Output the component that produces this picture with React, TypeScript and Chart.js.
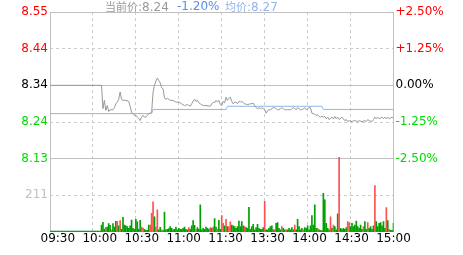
import React, { useEffect, useRef } from "react";
import { Chart, registerables } from "chart.js";

Chart.register(...registerables);

// ---- axis definitions ----
const priceTicks = [7.92, 8.025, 8.13, 8.235, 8.34, 8.445, 8.55];
const leftLabels = ["", "211", "8.13", "8.24", "8.34", "8.44", "8.55"];
const rightLabels = ["", "", "-2.50%", "-1.25%", "0.00%", "+1.25%", "+2.50%"];
const timeTicks = [0, 30, 60, 90, 120, 150, 180, 210, 240];
const timeLabels = ["09:30", "10:00", "10:30", "11:00", "11:30", "13:30", "14:00", "14:30", "15:00"];
const volumeAxisMax = 1266;

// ---- price (minute index -> price) ----
const priceMinutes = [
  0, 36, 37, 38, 39, 40, 41, 42, 44, 45, 46, 47, 48, 49, 50, 51, 53, 55, 56, 57,
  58, 59, 60, 61, 62, 63, 64, 65, 66, 67, 68, 69, 71, 72, 73, 74, 75, 76, 77, 78,
  79, 80, 81, 82, 84, 86, 88, 90, 92, 94, 96, 98, 99, 100, 101, 102, 103, 104, 105, 107,
  109, 112, 113, 114, 115, 116, 117, 118, 119, 120, 121, 122, 123, 124, 125, 126, 127, 128, 129, 130,
  131, 132, 133, 134, 136, 138, 140, 142, 143, 144, 145, 146, 147, 148, 149, 150, 151, 152, 153, 154,
  156, 157, 158, 159, 160, 161, 162, 163, 164, 166, 168, 169, 170, 171, 172, 173, 174, 175, 176, 177,
  178, 179, 180, 181, 182, 183, 184, 185, 186, 187, 188, 189, 190, 191, 192, 193, 194, 195, 197, 198,
  199, 200, 201, 202, 204, 205, 206, 207, 208, 209, 211, 212, 213, 215, 216, 218, 220, 221, 222, 223,
  225, 226, 227, 228, 229, 230, 232, 233, 234, 235, 236, 237, 239, 240,
];
const prices = [
  8.340, 8.340, 8.273, 8.297, 8.268, 8.282, 8.265, 8.270, 8.270, 8.276, 8.287, 8.292, 8.300, 8.321, 8.300, 8.297, 8.297, 8.294, 8.280, 8.262,
  8.259, 8.254, 8.254, 8.249, 8.245, 8.239, 8.249, 8.254, 8.249, 8.249, 8.254, 8.259, 8.262, 8.320, 8.340, 8.352, 8.361, 8.354, 8.347, 8.333,
  8.330, 8.303, 8.300, 8.303, 8.297, 8.297, 8.292, 8.292, 8.287, 8.282, 8.285, 8.280, 8.287, 8.295, 8.300, 8.294, 8.297, 8.290, 8.287, 8.282,
  8.282, 8.280, 8.287, 8.292, 8.290, 8.297, 8.292, 8.297, 8.285, 8.282, 8.294, 8.290, 8.306, 8.297, 8.303, 8.306, 8.294, 8.287, 8.292, 8.292,
  8.287, 8.294, 8.292, 8.294, 8.287, 8.285, 8.287, 8.289, 8.282, 8.276, 8.273, 8.276, 8.273, 8.276, 8.273, 8.270, 8.260, 8.268, 8.270, 8.270,
  8.276, 8.276, 8.273, 8.270, 8.270, 8.273, 8.276, 8.273, 8.270, 8.270, 8.270, 8.273, 8.276, 8.273, 8.270, 8.276, 8.273, 8.270, 8.270, 8.273,
  8.276, 8.270, 8.273, 8.276, 8.276, 8.260, 8.259, 8.257, 8.254, 8.256, 8.251, 8.249, 8.251, 8.249, 8.251, 8.244, 8.249, 8.242, 8.249, 8.244,
  8.251, 8.244, 8.249, 8.242, 8.249, 8.244, 8.239, 8.242, 8.236, 8.239, 8.236, 8.239, 8.239, 8.236, 8.239, 8.236, 8.239, 8.236, 8.242, 8.239,
  8.236, 8.242, 8.249, 8.244, 8.249, 8.244, 8.249, 8.244, 8.249, 8.244, 8.249, 8.244, 8.249, 8.246,
];

// ---- average price ----
const avgMinutes = [0, 71, 72, 123, 124, 190, 191, 240];
const avgPrices = [8.259, 8.259, 8.271, 8.271, 8.280, 8.280, 8.271, 8.271];

// ---- volume per minute (minute 0..240) ----
const volumes = [
  0, 0, 0, 0, 0, 0, 0, 0, 0, 0, 0, 0, 0, 0, 0, 0, 0, 0, 0, 0,
  0, 0, 0, 0, 0, 0, 0, 0, 0, 0, 0, 0, 0, 0, 0, 0,
  40, 56, 17, 27, 29, 48, 39, 13, 48, 29,
  62, 62, 35, 65, 15, 85, 40, 36, 31, 21,
  35, 69, 21, 15, 73, 58, 15, 67, 29, 23,
  15, 10, 10, 40, 40, 108, 173, 87, 29, 127,
  12, 27, 12, 8, 115, 12, 15, 19, 31, 21,
  12, 15, 29, 12, 21, 15, 15, 21, 29, 15,
  12, 25, 15, 36, 65, 39, 15, 25, 15, 156,
  12, 21, 15, 29, 21, 15, 25, 21, 29, 77,
  29, 17, 67, 15, 94, 50, 35, 73, 31, 31,
  58, 40, 36, 31, 21, 31, 63, 31, 60, 35,
  31, 25, 21, 142, 15, 31, 44, 12, 25, 44,
  21, 15, 15, 25, 177, 12, 12, 21, 31, 36,
  12, 12, 50, 54, 21, 12, 31, 21, 12, 12,
  12, 21, 12, 25, 12, 40, 12, 73, 31, 12,
  21, 12, 25, 21, 35, 12, 35, 94, 40, 156,
  21, 21, 12, 8, 8, 223, 185, 50, 21, 12,
  88, 21, 40, 31, 12, 104, 430, 21, 15, 21,
  15, 25, 60, 54, 31, 50, 31, 40, 63, 31,
  21, 40, 15, 31, 60, 15, 54, 21, 31, 15,
  36, 267, 60, 31, 50, 54, 35, 60, 21, 140,
  65, 15, 10, 10, 50,
];
// r = up (red), g = down (green), per minute
const volumeDirections =
  "gggggggggggggggggggggggggggggggggggg" +
  "gggrgggrgg" + "grgrgggggg" + "ggggggggrr" + "ggggrrrgrr" + "ggrggggggg" +
  "gggggggggg" + "grggggrggg" + "ggggggrgrg" + "grggrrgrgr" + "rggggggggg" +
  "rggggggggg" + "ggggrggggg" + "grggggrggr" + "gggggrgggg" + "grgggggggg" +
  "grgggggggg" + "rgrgggrggg" + "ggrrgggggg" + "gggrggrggg" + "grgggggggr" +
  "grggg";

const RED = "#ff0000";
const GREEN = "#00dd00";
const GRID = "#cccccc";
const SOLID = "#c0c0c0";
const leftColors = ["#000000", "#c0c0c0", GREEN, GREEN, "#000000", RED, RED];
const rightColors = ["#000000", "#000000", GREEN, GREEN, "#000000", RED, RED];
const dashedY = [false, true, false, true, false, true, false];

export default function App() {
  const ref = useRef<HTMLCanvasElement>(null);

  useEffect(() => {
    Chart.defaults.font.family = "'DejaVu Sans'";
    Chart.defaults.font.size = 12;
    const canvas = ref.current!;
    const setTicks = (vals: number[]) => (s: any) => {
      s.ticks = vals.map((v) => ({ value: v }));
    };
    const chart = new Chart(canvas, {
      type: "line",
      data: {
        datasets: [
          {
            type: "line",
            data: priceMinutes.map((m, i) => ({ x: m, y: prices[i] })),
            borderColor: "#999999",
            borderWidth: 1,
            pointRadius: 0,
            tension: 0,
            xAxisID: "x",
            yAxisID: "y",
          },
          {
            type: "line",
            data: avgMinutes.map((m, i) => ({ x: m, y: avgPrices[i] })),
            borderColor: "#93b4ee",
            borderWidth: 1,
            pointRadius: 0,
            tension: 0,
            xAxisID: "x",
            yAxisID: "y",
          },
          {
            type: "bar",
            data: volumes.map((v, i) => ({ x: i, y: v })),
            backgroundColor: volumes.map((_, i) => (volumeDirections[i] === "r" ? "#ff5050" : "#00a000")),
            barThickness: 1,
            minBarLength: 1,
            xAxisID: "x",
            yAxisID: "yv",
          } as any,
        ],
      },
      options: {
        animation: false,
        responsive: true,
        maintainAspectRatio: false,
        layout: { padding: { top: 12, left: 0, right: 0, bottom: 0 } },
        plugins: { legend: { display: false }, tooltip: { enabled: false }, title: { display: false } },
        scales: {
          x: {
            type: "linear",
            axis: "x",
            position: "bottom",
            min: 0,
            max: 240,
            offset: false,
            afterBuildTicks: setTicks(timeTicks),
            afterFit: (s: any) => { s.height = 0; },
            ticks: { display: false },
            grid: {
              offset: false,
              drawTicks: false,
              color: (c: any) => (c.index === 0 || c.index === 8 ? SOLID : GRID),
            },
            border: {
              display: false,
              dash: (c: any) => (c.type === "tick" && c.index > 0 && c.index < 8 ? [3, 3] : []),
            },
          },
          xl: {
            type: "linear",
            axis: "x",
            position: "bottom",
            min: -5.58,
            max: 240,
            afterBuildTicks: setTicks(timeTicks),
            afterFit: (s: any) => { s.height = 23; },
            grid: { display: false, drawTicks: false },
            border: { display: false },
            ticks: {
              autoSkip: false,
              maxRotation: 0,
              padding: 0,
              color: "#000000",
              callback: (_v: any, i: number) => timeLabels[i],
            },
          },
          y: {
            type: "linear",
            axis: "y",
            position: "left",
            min: 7.92,
            max: 8.55,
            afterBuildTicks: setTicks(priceTicks),
            afterFit: (s: any) => { s.width = 50; },
            grid: {
              drawTicks: false,
              color: (c: any) => (c.index === 0 ? "rgba(0,0,0,0)" : dashedY[c.index] ? GRID : SOLID),
            },
            border: {
              display: false,
              dash: (c: any) => (c.type === "tick" && dashedY[c.index] ? [3, 3] : []),
            },
            ticks: {
              autoSkip: false,
              padding: 2,
              callback: (_v: any, i: number) => leftLabels[i],
              color: (c: any) => leftColors[c.index],
            },
          },
          yr: {
            type: "linear",
            axis: "y",
            position: "right",
            min: 7.92,
            max: 8.55,
            afterBuildTicks: setTicks(priceTicks),
            afterFit: (s: any) => { s.width = 69.5; },
            grid: { display: false, drawTicks: false },
            border: { display: false },
            ticks: {
              autoSkip: false,
              padding: 2,
              callback: (_v: any, i: number) => rightLabels[i],
              color: (c: any) => rightColors[c.index],
            },
          },
          yv: {
            type: "linear",
            axis: "y",
            display: false,
            min: 0,
            max: volumeAxisMax,
          },
        } as any,
      },
    });
    return () => chart.destroy();
  }, []);

  return (
    <div style={{ position: "fixed", left: 0, top: 0, width: 463, height: 255, background: "#ffffff" }}>
      <canvas ref={ref} />
      <div
        style={{
          position: "absolute",
          top: -1,
          left: 0,
          fontFamily: "'DejaVu Sans', 'Noto Sans CJK SC'",
          fontSize: 12,
          lineHeight: "14px",
          whiteSpace: "nowrap",
        }}
      >
        <span style={{ position: "absolute", left: 105, color: "#999999" }}>
          <span style={{ fontFamily: "'Noto Sans CJK SC'", fontSize: 11 }}>当前价</span>:8.24
        </span>
        <span style={{ position: "absolute", left: 177, color: "#5b8de6" }}>-1.20%</span>
        <span style={{ position: "absolute", left: 225, color: "#93b4ee" }}>
          <span style={{ fontFamily: "'Noto Sans CJK SC'", fontSize: 11 }}>均价</span>:8.27
        </span>
      </div>
    </div>
  );
}
